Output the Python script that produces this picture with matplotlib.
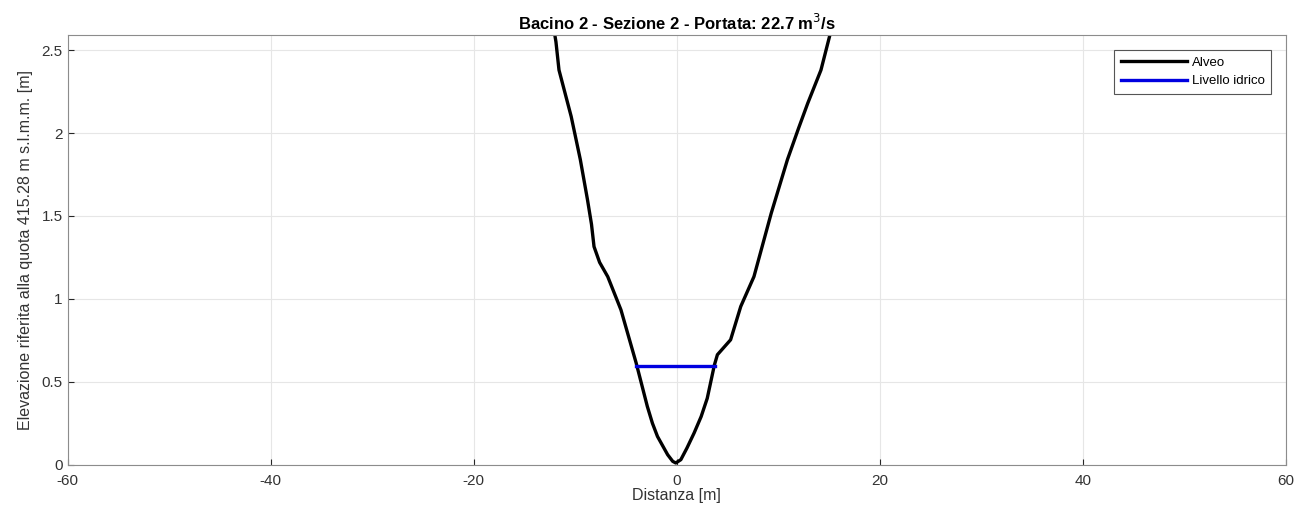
import matplotlib.pyplot as plt

plt.rcParams['font.family'] = ['Liberation Sans', 'DejaVu Sans']
plt.rcParams['axes.unicode_minus'] = False

# sezione trasversale dell'alveo
dist = [-12.3, -11.9, -11.6, -11.0, -10.4, -9.5, -8.8, -8.4, -8.15, -7.6, -6.8, -5.5, -4.0,
        -2.9, -2.4, -1.9, -0.9, -0.4, -0.1,
        0.4, 1.0, 1.7, 2.4, 3.0, 3.7, 4.0, 5.3, 6.3, 7.6, 9.3, 10.9, 12.0, 12.9, 14.2, 15.2]
quota = [2.70, 2.55, 2.38, 2.24, 2.10, 1.84, 1.60, 1.45, 1.315, 1.22, 1.134, 0.934, 0.613,
         0.351, 0.25, 0.17, 0.06, 0.02, 0.01,
         0.03, 0.10, 0.19, 0.29, 0.40, 0.60, 0.663, 0.753, 0.954, 1.134, 1.516, 1.84, 2.03, 2.18, 2.38, 2.62]

# livello idrico
livello_x = [-4.05, 3.75]
livello_y = [0.592, 0.592]

fig, ax = plt.subplots(figsize=(12.99, 5.18), dpi=100)
fig.subplots_adjust(left=0.052, right=0.99, top=0.932, bottom=0.103)

ax.plot(dist, quota, color='black', lw=2.4, label='Alveo', solid_joinstyle='round')
ax.plot(livello_x, livello_y, color='#0000e0', lw=2.4, label='Livello idrico')

ax.set_xlim(-60, 60)
ax.set_ylim(0, 2.59)
ax.set_xticks(range(-60, 61, 20))
ax.set_yticks([0, 0.5, 1, 1.5, 2, 2.5])
ax.set_yticklabels(['0', '0.5', '1', '1.5', '2', '2.5'])
ax.grid(True, color='#e6e6e6', lw=0.8)
ax.set_axisbelow(True)
ax.tick_params(direction='in', length=4, colors='#262626', labelsize=11, labelcolor='#333333')
ax.tick_params(axis='x', pad=7)
for s in ax.spines.values():
    s.set_color('#8c8c8c')
    s.set_linewidth(0.8)

ax.set_xlabel('Distanza [m]', fontsize=11.5, color='#333333', labelpad=0)
ax.set_ylabel('Elevazione riferita alla quota 415.28 m s.l.m.m. [m]', fontsize=11.5,
              color='#333333', labelpad=6)
ax.set_title('Bacino 2 - Sezione 2 - Portata: 22.7 m$^3$/s', fontsize=12,
             fontweight='bold', pad=4)

leg = ax.legend(loc='upper right', fontsize=9.5, fancybox=False, framealpha=1,
                edgecolor='#555555', handlelength=5.0, borderpad=0.5,
                labelspacing=0.5, handletextpad=0.4, borderaxespad=1.1)
leg.get_frame().set_linewidth(0.8)

fig.savefig('out.png', dpi=100)
